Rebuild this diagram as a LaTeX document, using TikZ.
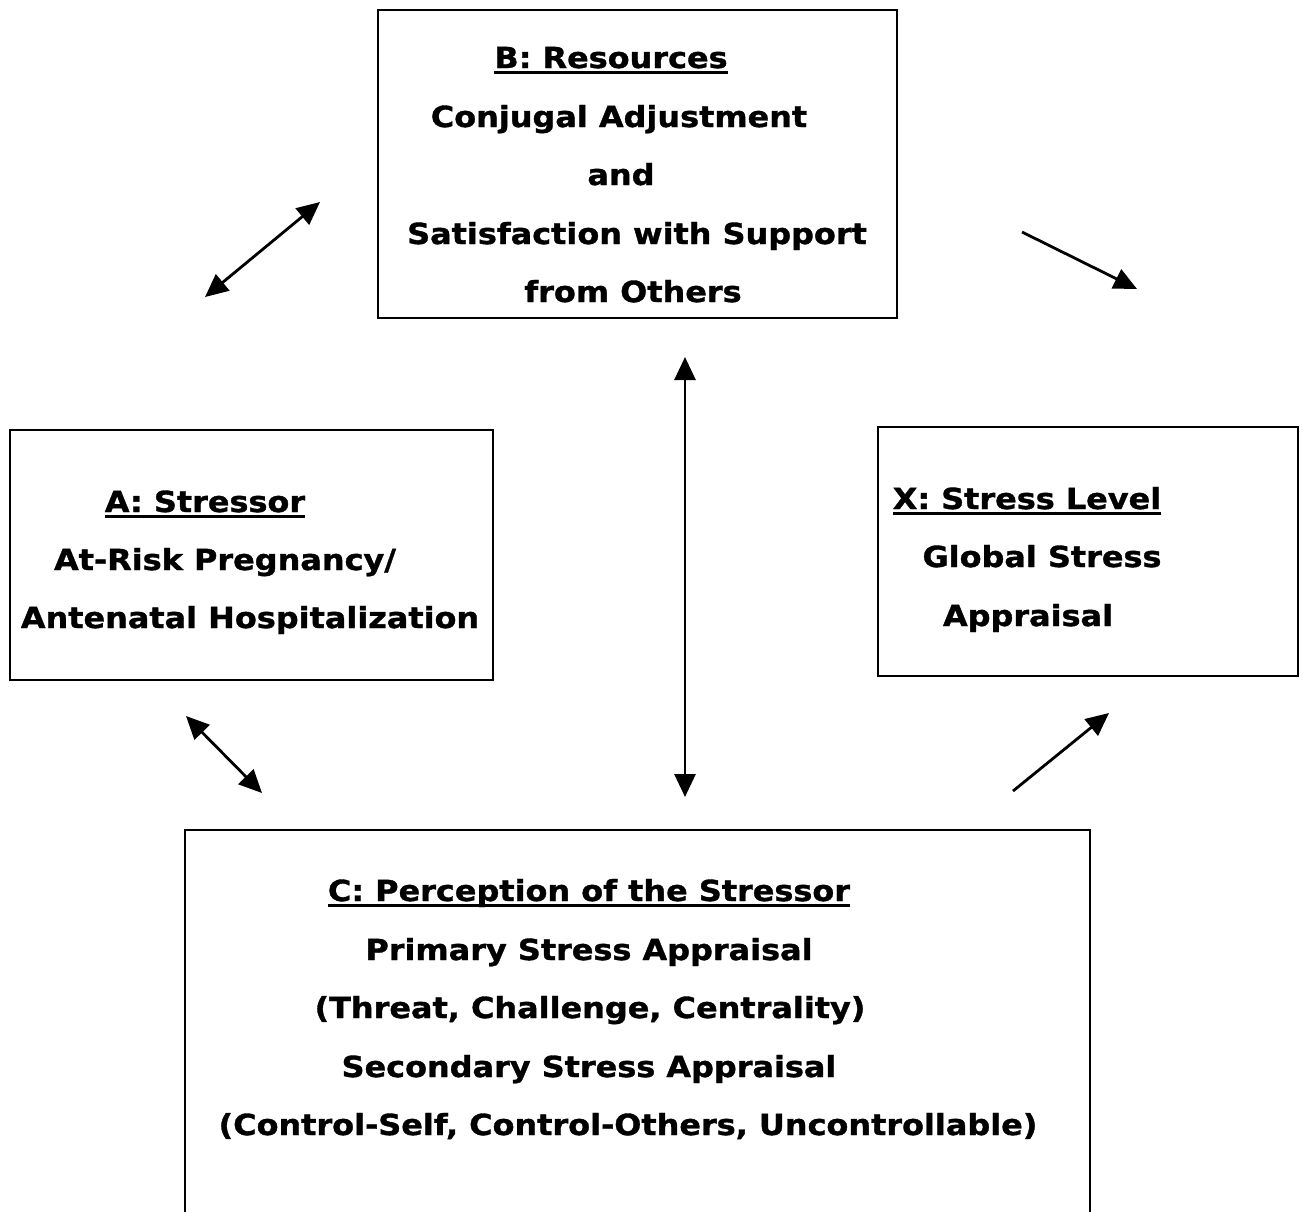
\documentclass[tikz,border=0pt]{standalone}
\usepackage{fontspec}
\setmainfont{DejaVu Sans}[BoldFont={DejaVu Sans Bold}, BoldFeatures={FakeStretch=1.1, FakeBold=1.2}]
\usetikzlibrary{arrows.meta}
% heading with a thick rule underneath
\newcommand\headline[1]{\setbox0\hbox{#1}\rlap{\rule[-6pt]{\wd0}{2.8pt}}\box0}
\begin{document}
\begin{tikzpicture}[x=1pt,y=-1pt,
  frame/.style={line width=1.4pt},
  txt/.style={anchor=base, inner sep=0pt, font=\fontsize{29}{29}\selectfont\bfseries},
  tip/.tip={Triangle[length=23pt,width=21pt]},
  link/.style={line width=2.8pt, -tip},
  link2/.style={line width=2.8pt, tip-tip}]
\useasboundingbox (0,0) rectangle (1303,1211);
% boxes
\draw[frame] (378,10) rectangle (897,318);
\draw[frame] (10,430) rectangle (493,680);
\draw[frame] (878,427) rectangle (1298,676);
\draw[frame] (185,1215) -- (185,830) -- (1090,830) -- (1090,1215);
% B
\node[txt] (b1) at (611,68) {\headline{B: Resources}};
\node[txt] (b2) at (619,127) {Conjugal Adjustment};
\node[txt] (b3) at (621,185) {and};
\node[txt] (b4) at (637,244) {Satisfaction with Support};
\node[txt] (b5) at (633,302) {from Others};
% A
\node[txt] (a1) at (205,512) {\headline{A: Stressor}};
\node[txt] (a2) at (225,570) {At-Risk Pregnancy/};
\node[txt] (a3) at (250,628) {Antenatal Hospitalization};
% X
\node[txt] (x1) at (1027,509) {\headline{X: Stress Level}};
\node[txt] (x2) at (1042,567) {Global Stress};
\node[txt] (x3) at (1028,626) {Appraisal};
% C
\node[txt] (c1) at (589,901) {\headline{C: Perception of the Stressor}};
\node[txt] (c2) at (589,960) {Primary Stress Appraisal};
\node[txt] (c3) at (590,1018) {(Threat, Challenge, Centrality)};
\node[txt] (c4) at (589,1077) {Secondary Stress Appraisal};
\node[txt] (c5) at (628,1135) {(Control-Self, Control-Others, Uncontrollable)};
% arrows
\coordinate (ab1) at (205,297); \coordinate (ab2) at (320,202);
\coordinate (bx1) at (1022,232); \coordinate (bx2) at (1137,289);
\coordinate (ac1) at (186,716); \coordinate (ac2) at (262,793);
\coordinate (bc1) at (685,357); \coordinate (bc2) at (685,797);
\coordinate (cx1) at (1013,791); \coordinate (cx2) at (1109,713);
\draw[link2] (ab1) -- (ab2);
\draw[link] (bx1) -- (bx2);
\draw[link2] (ac1) -- (ac2);
\draw[link2] (bc1) -- (bc2);
\draw[link] (cx1) -- (cx2);
\end{tikzpicture}
\end{document}
